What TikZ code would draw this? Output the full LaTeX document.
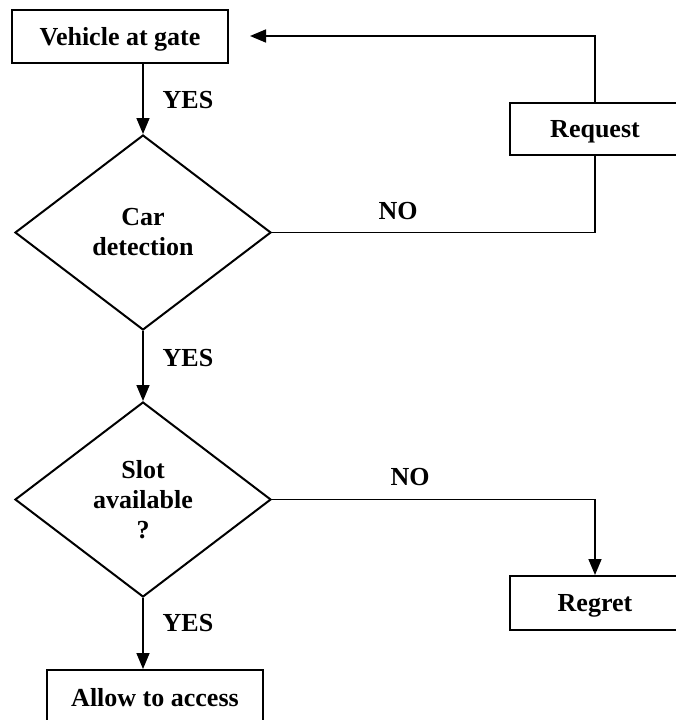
\documentclass[tikz,border=0pt]{standalone}
\usepackage{fontspec}
\setmainfont{Liberation Serif}
\usepackage{tikz}
\usetikzlibrary{shapes.geometric,arrows.meta}

\begin{document}
\begin{tikzpicture}[x=1pt,y=-1pt,line width=1.6pt,
  every node/.style={font=\fontsize{26pt}{30pt}\selectfont\bfseries,inner sep=0pt},
  box/.style={draw,line width=2pt,text height=17.5pt,text depth=0pt},
  decision/.style={draw,diamond,line width=2pt,align=center,
    minimum width=256pt,minimum height=195pt},
  arr/.style={-{Triangle[length=16pt,width=13pt]}}]
  \useasboundingbox (0,0) rectangle (675,720);
  % blocks
  \node[box,minimum width=216pt,minimum height=53pt] (gate)   at (120,36.5) {Vehicle at gate};
  \node[box,minimum width=170pt,minimum height=52pt] (req)    at (595,129) {Request};
  \node[decision] (car)  at (143,232.5) {Car\\detection};
  \node[decision] (slot) at (143,499.5) {Slot\\available\\?};
  \node[box,minimum width=170pt,minimum height=54pt] (regret) at (595,603) {Regret};
  \node[box,minimum width=216pt,minimum height=56pt] (allow)  at (155,698) {Allow to access};
  \coordinate (back) at (250,36);
  % connectors
  \draw[arr] (gate.south -| car.north) -- (car.north);
  \draw (car.east) -| (req.south);
  \draw[arr] (req.north) |- (back);
  \draw[arr] (car.south) -- (slot.north);
  \draw[arr] (slot.east) -| (regret.north);
  \draw[arr] (slot.south) -- (slot.south |- allow.north);
  % labels
  \node (yes1) at (188,100) {YES};
  \node (no1)  at (398,211) {NO};
  \node (yes2) at (188,358) {YES};
  \node (no2)  at (410,477) {NO};
  \node (yes3) at (188,623) {YES};
\end{tikzpicture}
\end{document}
